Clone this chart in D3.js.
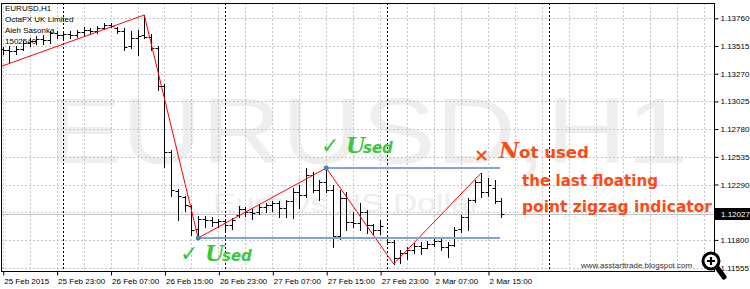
<!DOCTYPE html>
<html>
<head>
<meta charset="utf-8">
<script src="https://cdn.jsdelivr.net/npm/d3@7"></script>
<style>
  html, body { margin: 0; padding: 0; background: #fff; }
  svg { display: block; font-family: 'Liberation Sans', Arial, sans-serif; }
</style>
</head>
<body>
<svg id="chart" width="750" height="289"></svg>
<script>
// EURUSD H1 bars, 25 Feb 2015 15:00 .. 2 Mar 17:00
const opens = [1.13489, 1.13480, 1.13471, 1.13489, 1.13542, 1.13559, 1.13577, 1.13568, 1.13630, 1.13612,
  1.13621, 1.13612, 1.13639, 1.13657, 1.13648, 1.13674, 1.13701, 1.13674, 1.13648, 1.13515,
  1.13586, 1.13612, 1.13595, 1.13497, 1.13161, 1.12578, 1.12233, 1.12180, 1.12100, 1.11896,
  1.11985, 1.11976, 1.11958, 1.11967, 1.11932, 1.12020, 1.12073, 1.12047, 1.12047, 1.12091,
  1.12109, 1.12127, 1.12082, 1.12144, 1.12224, 1.12197, 1.12374, 1.12241, 1.12312, 1.12241,
  1.11835, 1.12171, 1.11958, 1.11950, 1.12047, 1.11932, 1.11888, 1.11817, 1.11781, 1.11640,
  1.11684, 1.11711, 1.11746, 1.11728, 1.11764, 1.11790, 1.11737, 1.11755, 1.11896, 1.12003,
  1.12153, 1.12312, 1.12224, 1.12259, 1.12144];
const highs = [1.13506, 1.13515, 1.13515, 1.13559, 1.13586, 1.13604, 1.13612, 1.13648, 1.13648, 1.13630,
  1.13648, 1.13657, 1.13683, 1.13674, 1.13692, 1.13719, 1.13719, 1.13683, 1.13674, 1.13648,
  1.13657, 1.13789, 1.13621, 1.13515, 1.13179, 1.12595, 1.12250, 1.12188, 1.12109, 1.12011,
  1.12011, 1.12003, 1.11985, 1.11985, 1.11994, 1.12100, 1.12091, 1.12073, 1.12109, 1.12127,
  1.12144, 1.12144, 1.12153, 1.12259, 1.12286, 1.12436, 1.12401, 1.12330, 1.12436, 1.12286,
  1.12241, 1.12224, 1.12047, 1.12127, 1.12065, 1.11941, 1.11976, 1.11835, 1.11799, 1.11711,
  1.11737, 1.11773, 1.11781, 1.11790, 1.11817, 1.11826, 1.11781, 1.11914, 1.12020, 1.12171,
  1.12330, 1.12392, 1.12348, 1.12330, 1.12171];
const lows = [1.13444, 1.13374, 1.13444, 1.13480, 1.13515, 1.13533, 1.13533, 1.13542, 1.13586, 1.13586,
  1.13586, 1.13595, 1.13612, 1.13630, 1.13630, 1.13666, 1.13683, 1.13630, 1.13480, 1.13497,
  1.13436, 1.13586, 1.13480, 1.13126, 1.12445, 1.12188, 1.11976, 1.12056, 1.11843, 1.11817,
  1.11914, 1.11923, 1.11914, 1.11888, 1.11896, 1.12003, 1.12011, 1.11985, 1.12029, 1.12047,
  1.12056, 1.12003, 1.12003, 1.11994, 1.12082, 1.12180, 1.12224, 1.12153, 1.12224, 1.11737,
  1.11808, 1.11888, 1.11914, 1.11888, 1.11861, 1.11852, 1.11852, 1.11764, 1.11587, 1.11596,
  1.11631, 1.11684, 1.11675, 1.11728, 1.11746, 1.11711, 1.11649, 1.11746, 1.11870, 1.11888,
  1.12135, 1.12180, 1.12188, 1.12127, 1.12003];
const closes = [1.13480, 1.13471, 1.13489, 1.13542, 1.13559, 1.13577, 1.13568, 1.13630, 1.13612, 1.13621,
  1.13612, 1.13639, 1.13657, 1.13648, 1.13674, 1.13701, 1.13692, 1.13648, 1.13506, 1.13586,
  1.13604, 1.13595, 1.13497, 1.13161, 1.12578, 1.12241, 1.12188, 1.12109, 1.11888, 1.11985,
  1.11976, 1.11958, 1.11967, 1.11932, 1.11976, 1.12073, 1.12047, 1.12038, 1.12091, 1.12109,
  1.12127, 1.12082, 1.12144, 1.12224, 1.12197, 1.12374, 1.12241, 1.12312, 1.12241, 1.11835,
  1.12171, 1.11958, 1.11950, 1.12047, 1.11932, 1.11888, 1.11923, 1.11781, 1.11640, 1.11684,
  1.11711, 1.11746, 1.11728, 1.11764, 1.11790, 1.11737, 1.11755, 1.11888, 1.12003, 1.12153,
  1.12312, 1.12224, 1.12286, 1.12144, 1.12027];

const timeLabels = ['25 Feb 2015', '25 Feb 23:00', '26 Feb 07:00', '26 Feb 15:00', '26 Feb 23:00',
  '27 Feb 07:00', '27 Feb 15:00', '27 Feb 23:00', '2 Mar 07:00', '2 Mar 15:00'];
const timeLabelBars = [0, 8, 16, 24, 32, 40, 48, 56, 64, 72];
const daySeparators = [9, 33, 57, 81];
const priceTicks = [1.13760, 1.13515, 1.13270, 1.13025, 1.12780, 1.12535, 1.12290, 1.12045, 1.11800, 1.11555];

const zigzagBars = [-1, 21, 29, 48, 58, 71];
const zigzagPrices = [1.13318, 1.13789, 1.11817, 1.12436, 1.11587, 1.12392];
const levelBars = [29, 48];
const levelPrices = [1.11817, 1.12436];
const levelEnd = 73.8;
const lastPrice = 1.12027;

const svg = d3.select('#chart');
const plot = { left: 1, top: 3, right: 714, bottom: 271 };

const x = d3.scaleLinear().domain([0, 104]).range([2.7, 2.7 + 6.74 * 104]);
const y = d3.scaleLinear().domain([1.11555, 1.13760]).range([267.6, 18.3]);

svg.append('defs').append('clipPath').attr('id', 'clip')
  .append('rect')
  .attr('x', plot.left).attr('y', plot.top)
  .attr('width', plot.right - plot.left).attr('height', plot.bottom - plot.top);

const px = v => Math.round(v) + 0.5;

// watermark
const wm = svg.append('g').attr('fill', '#eeeeee').attr('clip-path', 'url(#clip)');
wm.append('text')
  .attr('x', 48).attr('y', 163)
  .attr('font-size', 92)
  .attr('textLength', 640).attr('lengthAdjust', 'spacingAndGlyphs')
  .text('EURUSD,H1');
wm.append('text')
  .attr('x', 213).attr('y', 212)
  .attr('font-size', 26)
  .attr('textLength', 268).attr('lengthAdjust', 'spacingAndGlyphs')
  .text('Euro vs US Dollar');

// grid
const grid = svg.append('g').attr('clip-path', 'url(#clip)');
grid.selectAll('.hgrid')
  .data(priceTicks)
  .enter()
  .append('line')
  .attr('x1', plot.left).attr('x2', plot.right)
  .attr('y1', d => px(y(d))).attr('y2', d => px(y(d)))
  .attr('stroke', '#c6c6c6')
  .attr('stroke-dasharray', '2,2');

grid.selectAll('.vgrid')
  .data(d3.range(0, 105, 4))
  .enter()
  .append('line')
  .attr('x1', d => px(x(d))).attr('x2', d => px(x(d)))
  .attr('y1', plot.top).attr('y2', plot.bottom)
  .attr('stroke', '#c6c6c6')
  .attr('stroke-dasharray', '2,2');

grid.selectAll('.sep')
  .data(daySeparators)
  .enter()
  .append('line')
  .attr('x1', d => px(x(d))).attr('x2', d => px(x(d)))
  .attr('y1', plot.top).attr('y2', plot.bottom)
  .attr('stroke', '#000')
  .attr('stroke-dasharray', '2,2');

// last price line
grid.append('line')
  .attr('x1', plot.left).attr('x2', plot.right)
  .attr('y1', px(y(lastPrice))).attr('y2', px(y(lastPrice)))
  .attr('stroke', '#c0c0c0');

// info text
const info = svg.append('g').attr('font-size', 8).attr('fill', '#000');
['EURUSD,H1', 'OctaFX UK Limited', 'Aleh Sasonka', '1502540'].forEach((t, i) => {
  info.append('text').attr('x', 5).attr('y', 11 + i * 11).text(t);
});

// OHLC bars
const bars = svg.append('g').attr('clip-path', 'url(#clip)');
bars.selectAll('path')
  .data(opens.map((o, i) => ({ i, o, h: highs[i], l: lows[i], c: closes[i] })))
  .enter()
  .append('path')
  .attr('fill', 'none')
  .attr('stroke', '#000')
  .attr('d', d => {
    const cx = px(x(d.i));
    return 'M' + cx + ',' + Math.round(y(d.h)) + 'V' + (Math.round(y(d.l)) + 1) +
      'M' + (cx - 3) + ',' + px(y(d.o)) + 'H' + cx +
      'M' + cx + ',' + px(y(d.c)) + 'H' + (cx + 3);
  });

// zigzag
const zz = zigzagBars.map((b, i) => [x(b), y(zigzagPrices[i])]);
svg.append('path')
  .attr('clip-path', 'url(#clip)')
  .attr('d', d3.line()(zz))
  .attr('fill', 'none')
  .attr('stroke', '#ff0000')
  .attr('stroke-width', 1);

// support / resistance levels
const lv = svg.append('g');
lv.selectAll('line')
  .data(levelBars.map((b, i) => ({ b, p: levelPrices[i] })))
  .enter()
  .append('line')
  .attr('x1', d => x(d.b)).attr('x2', x(levelEnd))
  .attr('y1', d => y(d.p)).attr('y2', d => y(d.p))
  .attr('stroke', '#7fa7d2')
  .attr('stroke-width', 2);
lv.selectAll('circle')
  .data(levelBars.map((b, i) => ({ b, p: levelPrices[i] })))
  .enter()
  .append('circle')
  .attr('cx', d => x(d.b)).attr('cy', d => y(d.p))
  .attr('r', 2.5)
  .attr('fill', '#4f7fb3');

// annotations
const green = '#38c83a';
function used(gx, gy) {
  const g = svg.append('g').attr('fill', green).attr('font-weight', 'bold');
  g.append('text').attr('x', gx).attr('y', gy)
    .attr('font-family', 'DejaVu Sans').attr('font-size', 22).text('\u2713');
  g.append('text').attr('x', gx + 25).attr('y', gy)
    .attr('font-family', 'DejaVu Serif').attr('font-style', 'italic')
    .attr('font-size', 22).text('U');
  g.append('text').attr('x', gx + 42).attr('y', gy)
    .attr('font-family', 'DejaVu Sans').attr('font-style', 'italic')
    .attr('font-size', 15).text('sed');
}
used(180, 261);
used(321, 153);

const red = '#ff4a14';
const rg = svg.append('g').attr('fill', red).attr('font-weight', 'bold');
rg.append('text').attr('x', 474).attr('y', 161)
  .attr('font-family', 'DejaVu Sans').attr('font-size', 18).text('\u00d7');
rg.append('text').attr('x', 499).attr('y', 158)
  .attr('font-family', 'DejaVu Serif').attr('font-style', 'italic')
  .attr('font-size', 22).text('N');
rg.append('text').attr('x', 519).attr('y', 158)
  .attr('font-family', 'DejaVu Sans').attr('font-size', 15)
  .attr('textLength', 70).attr('lengthAdjust', 'spacingAndGlyphs')
  .text('ot used');
rg.append('text').attr('x', 522).attr('y', 186)
  .attr('font-family', 'DejaVu Sans').attr('font-size', 15)
  .attr('textLength', 136).attr('lengthAdjust', 'spacingAndGlyphs')
  .text('the last floating');
rg.append('text').attr('x', 522).attr('y', 212)
  .attr('font-family', 'DejaVu Sans').attr('font-size', 15)
  .attr('textLength', 190).attr('lengthAdjust', 'spacingAndGlyphs')
  .text('point zigzag indicator');

// frame
svg.append('rect')
  .attr('x', plot.left + 0.5).attr('y', plot.top + 0.5)
  .attr('width', plot.right - plot.left).attr('height', plot.bottom - plot.top)
  .attr('fill', 'none')
  .attr('stroke', '#000');

// axes
const xAxis = d3.axisBottom(x)
  .tickValues(timeLabelBars)
  .tickFormat((d, i) => timeLabels[i])
  .tickSize(4)
  .tickSizeOuter(0);
const gx = svg.append('g')
  .attr('transform', 'translate(0,' + (plot.bottom + 0.5) + ')')
  .call(xAxis);
gx.select('.domain').remove();
gx.selectAll('.tick line').attr('transform', 'translate(0.5,0)');
gx.selectAll('.tick text')
  .attr('text-anchor', 'start')
  .attr('x', 1)
  .attr('font-size', 8)
  .attr('font-family', 'Liberation Sans');

const yAxis = d3.axisRight(y)
  .tickValues(priceTicks)
  .tickFormat(d3.format('.5f'))
  .tickSize(4)
  .tickSizeOuter(0);
const gy = svg.append('g')
  .attr('transform', 'translate(' + (plot.right + 0.5) + ',0)')
  .call(yAxis);
gy.select('.domain').remove();
gy.selectAll('.tick text')
  .attr('x', 6)
  .attr('font-size', 8)
  .attr('font-family', 'Liberation Sans');

// last price box
const lp = svg.append('g').attr('transform', 'translate(715,' + Math.round(y(lastPrice)) + ')');
lp.append('rect').attr('x', 0).attr('y', -6).attr('width', 35).attr('height', 12).attr('fill', '#000');
lp.append('text').attr('x', 6).attr('y', 3).attr('fill', '#fff').attr('font-size', 8).text(d3.format('.5f')(lastPrice));

// site mark and magnifier icon
svg.append('text').attr('x', 581).attr('y', 268).attr('font-size', 8).attr('fill', '#333')
  .text('www.asstarttrade.blogspot.com');
const mg = svg.append('g').attr('transform', 'translate(711,261)');
mg.append('line').attr('x1', 5).attr('y1', 5).attr('x2', 13).attr('y2', 16)
  .attr('stroke', '#000').attr('stroke-width', 5).attr('stroke-linecap', 'round');
mg.append('circle').attr('r', 8).attr('fill', '#fff').attr('stroke', '#000').attr('stroke-width', 3);
mg.append('path').attr('d', 'M-4,0H4M0,-4V4').attr('stroke', '#000').attr('stroke-width', 2.2);
</script>
</body>
</html>
